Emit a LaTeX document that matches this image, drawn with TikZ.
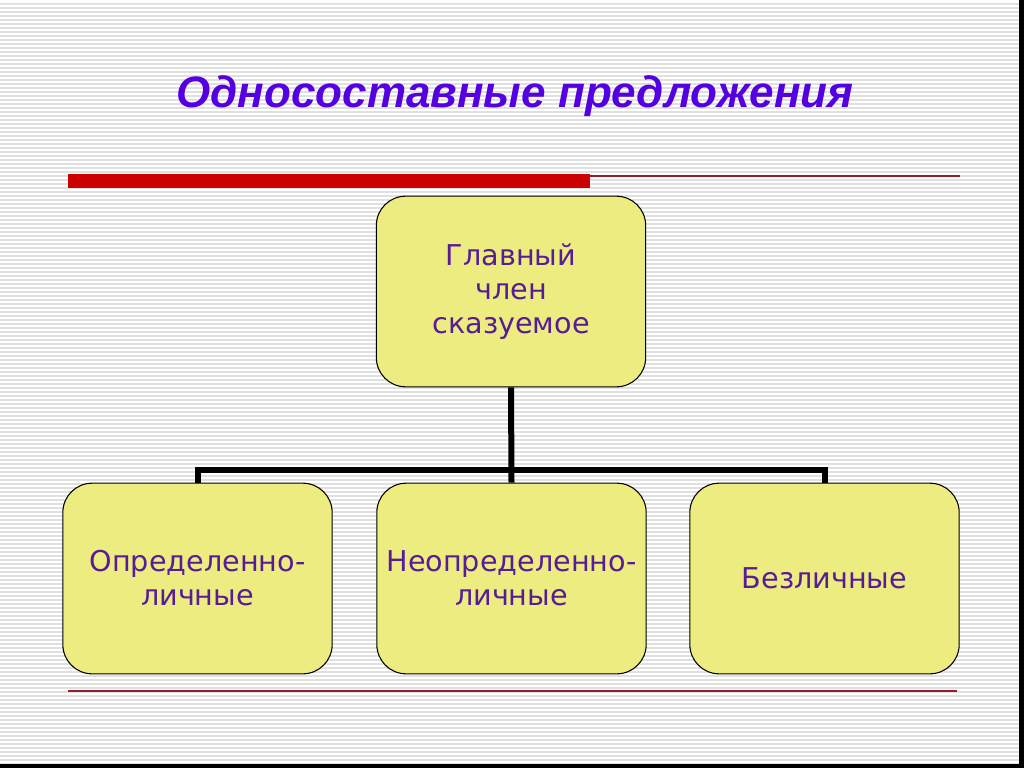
\documentclass[tikz,border=0pt]{standalone}
\usepackage{fontspec}
\setmainfont{DejaVu Sans}
\newfontfamily\titlefont{Liberation Sans}
\definecolor{titleviolet}{RGB}{85,0,225}
\definecolor{textpurple}{RGB}{88,28,150}
\definecolor{boxyellow}{RGB}{236,236,128}
\definecolor{barred}{RGB}{204,0,0}
\definecolor{thinred}{RGB}{150,30,40}
\definecolor{stripegray}{RGB}{224,224,224}
\begin{document}
\begin{tikzpicture}[x=0.75pt,y=-0.75pt,
    stripe/.style={stripegray,line width=1.1pt},
    box/.style={draw=black,line width=0.8pt,fill=boxyellow,rounded corners=22pt,
        minimum width=202pt,minimum height=143pt,inner sep=0pt,align=center,
        text=textpurple,font=\fontsize{21.5}{25.5}\selectfont},
    bus/.style={black,line width=4.5pt}]
    \useasboundingbox (0,0) rectangle (1024,768);

    % Background
    \fill[white] (0,0) rectangle (1024,768);
    \foreach \y in {1,...,191}
        \draw[stripe] (0,\y*4) -- (1024,\y*4);
    \fill[black] (1019,0) rectangle (1024,768);
    \fill[black] (0,764) rectangle (1024,768);

    % Title
    \node (title) at (515,96) {\titlefont\bfseries\itshape\fontsize{33}{39}\selectfont\color{titleviolet}Односоставные предложения};

    % Red lines
    \fill[barred] (68,174) rectangle (590,188);
    \draw[thinred,line width=1.1pt] (590,176) -- (960,176);
    \draw[thinred,line width=0.9pt] (68,691) -- (957,691);

    % Boxes
    \node[box] (main) at (511,291.5) {Главный\\член\\сказуемое};
    \node[box] (defin) at (197.5,578.5) {Определенно-\\личные};
    \node[box] (indef) at (511.5,578.5) {Неопределенно-\\личные};
    \node[box] (impers) at (824.5,578.5) {Безличные};

    % Connectors
    \coordinate (joint) at (511,470);
    \draw[bus] (main.south) -- (indef.north);
    \draw[bus] (defin.north) |- (joint) -| (impers.north);
\end{tikzpicture}
\end{document}
